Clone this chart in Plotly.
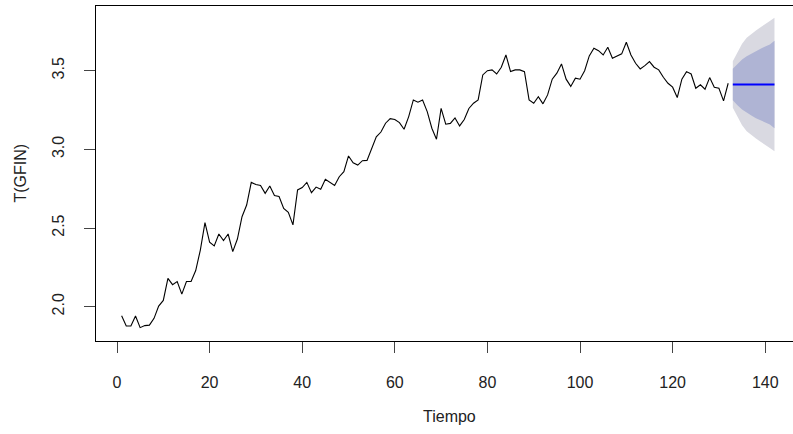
import plotly.graph_objects as go

# Observed series, t = 1..132
t_obs = list(range(1, 133))
gfin = [
    1.943, 1.877, 1.877, 1.941, 1.867, 1.880, 1.883, 1.926, 2.004, 2.040,
    2.180, 2.140, 2.160, 2.080, 2.160, 2.160, 2.230, 2.360, 2.534, 2.410,
    2.386, 2.462, 2.420, 2.462, 2.350, 2.430, 2.572, 2.646, 2.790, 2.776,
    2.770, 2.720, 2.767, 2.706, 2.700, 2.625, 2.600, 2.520, 2.742, 2.757,
    2.790, 2.725, 2.760, 2.746, 2.810, 2.790, 2.770, 2.826, 2.858, 2.958,
    2.915, 2.900, 2.928, 2.930, 3.000, 3.080, 3.110, 3.166, 3.195, 3.190,
    3.170, 3.128, 3.208, 3.314, 3.300, 3.314, 3.240, 3.134, 3.064, 3.260,
    3.160, 3.165, 3.200, 3.149, 3.190, 3.260, 3.293, 3.314, 3.473, 3.500,
    3.505, 3.479, 3.522, 3.600, 3.494, 3.505, 3.505, 3.494, 3.314, 3.293,
    3.335, 3.289, 3.346, 3.446, 3.484, 3.543, 3.446, 3.400, 3.452, 3.446,
    3.500, 3.594, 3.643, 3.627, 3.600, 3.649, 3.579, 3.594, 3.607, 3.681,
    3.600, 3.547, 3.511, 3.532, 3.558, 3.522, 3.505, 3.458, 3.420, 3.395,
    3.329, 3.446, 3.494, 3.479, 3.388, 3.410, 3.382, 3.456, 3.395, 3.388,
    3.308, 3.420,
]

# Forecast horizon t = 133..142
t_fc = list(range(133, 143))
fc_mean = [3.412] * 10
lo80 = [3.312, 3.281, 3.253, 3.232, 3.215, 3.198, 3.185, 3.170, 3.158, 3.134]
hi80 = [3.512, 3.543, 3.571, 3.592, 3.609, 3.626, 3.639, 3.654, 3.666, 3.690]
lo95 = [3.264, 3.206, 3.153, 3.115, 3.090, 3.069, 3.048, 3.031, 3.009, 2.988]
hi95 = [3.560, 3.618, 3.671, 3.709, 3.734, 3.755, 3.776, 3.793, 3.815, 3.836]

x_ticks = [0, 20, 40, 60, 80, 100, 120, 140]
y_ticks = [2.0, 2.5, 3.0, 3.5]
y_tick_text = ["2.0", "2.5", "3.0", "3.5"]

FONT = "Liberation Sans, Arial, sans-serif"
TXT = "#222222"
FS = 16

fig = go.Figure()

# 95% interval
fig.add_trace(go.Scatter(
    x=t_fc + t_fc[::-1], y=hi95 + lo95[::-1],
    fill="toself", fillcolor="#D9D9E1", line=dict(width=0),
    mode="lines", hoverinfo="skip", showlegend=False,
))
# 80% interval
fig.add_trace(go.Scatter(
    x=t_fc + t_fc[::-1], y=hi80 + lo80[::-1],
    fill="toself", fillcolor="#AFB4D4", line=dict(width=0),
    mode="lines", hoverinfo="skip", showlegend=False,
))
# point forecast
fig.add_trace(go.Scatter(
    x=t_fc, y=fc_mean, mode="lines",
    line=dict(color="#0000FF", width=2.2), showlegend=False,
))
# observed series
fig.add_trace(go.Scatter(
    x=t_obs, y=gfin, mode="lines",
    line=dict(color="#000000", width=1.1), showlegend=False,
))

fig.update_layout(
    width=793, height=434,
    margin=dict(l=96, r=0, t=6, b=93),
    paper_bgcolor="white", plot_bgcolor="white",
    font=dict(family=FONT, size=FS, color=TXT),
    xaxis=dict(
        range=[-4.536, 146.0], tickvals=x_ticks,
        ticks="outside", ticklen=11, tickcolor="#444",
        showline=True, linecolor="#000", linewidth=1, mirror=True,
        showgrid=False, zeroline=False,
        ticklabelstandoff=16,
        tickfont=dict(family=FONT, size=FS, color=TXT),
    ),
    yaxis=dict(
        range=[1.782, 3.911], tickvals=y_ticks, ticktext=y_tick_text,
        ticks="outside", ticklen=11, tickcolor="#444", tickangle=-90,
        showline=True, linecolor="#000", linewidth=1,
        showgrid=False, zeroline=False,
        ticklabelstandoff=14,
        tickfont=dict(family=FONT, size=FS, color=TXT),
    ),
    annotations=[
        dict(text="Tiempo", xref="paper", yref="paper", x=0.5065, y=-0.224,
             showarrow=False, xanchor="center", yanchor="middle",
             font=dict(family=FONT, size=FS, color=TXT)),
        dict(text="T(GFIN)", xref="paper", yref="paper", x=-0.109, y=0.5,
             showarrow=False, textangle=-90, xanchor="center", yanchor="middle",
             font=dict(family=FONT, size=FS, color=TXT)),
    ],
)

fig.write_html("out.html")
